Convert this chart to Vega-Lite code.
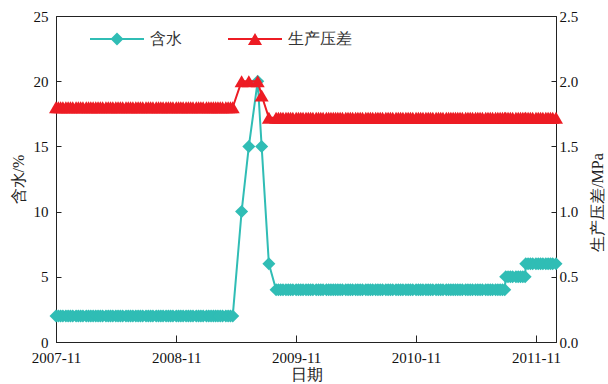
{
  "$schema": "https://vega.github.io/schema/vega-lite/v6.json",
  "width": 500,
  "height": 326,
  "autosize": {"type": "none"},
  "padding": {"left": 56, "top": 16, "right": 52, "bottom": 42},
  "background": "white",
  "config": {
    "font": "serif",
    "view": {"stroke": "#222", "strokeWidth": 1},
    "axis": {
      "grid": false,
      "domainColor": "#222",
      "tickColor": "#222",
      "labelColor": "#111",
      "titleColor": "#222",
      "labelFont": "serif",
      "labelFontSize": 15,
      "titleFont": "serif",
      "titleFontSize": 16,
      "titleFontWeight": "normal"
    }
  },
  "data": {"values": [
    {"d":"2007-11-01","w":2,"p":1.8},{"d":"2007-11-08","w":2,"p":1.8},{"d":"2007-11-15","w":2,"p":1.8},{"d":"2007-11-22","w":2,"p":1.8},
    {"d":"2007-12-01","w":2,"p":1.8},{"d":"2007-12-08","w":2,"p":1.8},{"d":"2007-12-15","w":2,"p":1.8},{"d":"2007-12-22","w":2,"p":1.8},
    {"d":"2008-01-01","w":2,"p":1.8},{"d":"2008-01-08","w":2,"p":1.8},{"d":"2008-01-15","w":2,"p":1.8},{"d":"2008-01-22","w":2,"p":1.8},
    {"d":"2008-02-01","w":2,"p":1.8},{"d":"2008-02-08","w":2,"p":1.8},{"d":"2008-02-15","w":2,"p":1.8},{"d":"2008-02-22","w":2,"p":1.8},
    {"d":"2008-03-01","w":2,"p":1.8},{"d":"2008-03-08","w":2,"p":1.8},{"d":"2008-03-15","w":2,"p":1.8},{"d":"2008-03-22","w":2,"p":1.8},
    {"d":"2008-04-01","w":2,"p":1.8},{"d":"2008-04-08","w":2,"p":1.8},{"d":"2008-04-15","w":2,"p":1.8},{"d":"2008-04-22","w":2,"p":1.8},
    {"d":"2008-05-01","w":2,"p":1.8},{"d":"2008-05-08","w":2,"p":1.8},{"d":"2008-05-15","w":2,"p":1.8},{"d":"2008-05-22","w":2,"p":1.8},
    {"d":"2008-06-01","w":2,"p":1.8},{"d":"2008-06-08","w":2,"p":1.8},{"d":"2008-06-15","w":2,"p":1.8},{"d":"2008-06-22","w":2,"p":1.8},
    {"d":"2008-07-01","w":2,"p":1.8},{"d":"2008-07-08","w":2,"p":1.8},{"d":"2008-07-15","w":2,"p":1.8},{"d":"2008-07-22","w":2,"p":1.8},
    {"d":"2008-08-01","w":2,"p":1.8},{"d":"2008-08-08","w":2,"p":1.8},{"d":"2008-08-15","w":2,"p":1.8},{"d":"2008-08-22","w":2,"p":1.8},
    {"d":"2008-09-01","w":2,"p":1.8},{"d":"2008-09-08","w":2,"p":1.8},{"d":"2008-09-15","w":2,"p":1.8},{"d":"2008-09-22","w":2,"p":1.8},
    {"d":"2008-10-01","w":2,"p":1.8},{"d":"2008-10-08","w":2,"p":1.8},{"d":"2008-10-15","w":2,"p":1.8},{"d":"2008-10-22","w":2,"p":1.8},
    {"d":"2008-11-01","w":2,"p":1.8},{"d":"2008-11-08","w":2,"p":1.8},{"d":"2008-11-15","w":2,"p":1.8},{"d":"2008-11-22","w":2,"p":1.8},
    {"d":"2008-12-01","w":2,"p":1.8},{"d":"2008-12-08","w":2,"p":1.8},{"d":"2008-12-15","w":2,"p":1.8},{"d":"2008-12-22","w":2,"p":1.8},
    {"d":"2009-01-01","w":2,"p":1.8},{"d":"2009-01-08","w":2,"p":1.8},{"d":"2009-01-15","w":2,"p":1.8},{"d":"2009-01-22","w":2,"p":1.8},
    {"d":"2009-02-01","w":2,"p":1.8},{"d":"2009-02-08","w":2,"p":1.8},{"d":"2009-02-15","w":2,"p":1.8},{"d":"2009-02-22","w":2,"p":1.8},
    {"d":"2009-03-01","w":2,"p":1.8},{"d":"2009-03-08","w":2,"p":1.8},{"d":"2009-03-15","w":2,"p":1.8},{"d":"2009-03-22","w":2,"p":1.8},
    {"d":"2009-04-01","w":2,"p":1.8},{"d":"2009-04-08","w":2,"p":1.8},{"d":"2009-04-15","w":2,"p":1.8},{"d":"2009-04-22","w":2,"p":1.8},
    {"d":"2009-05-19","w":10,"p":2.0},
    {"d":"2009-06-10","w":15,"p":2.0},
    {"d":"2009-07-07","w":20,"p":2.0},
    {"d":"2009-07-19","w":15,"p":1.89},
    {"d":"2009-08-10","w":6,"p":1.72},
    {"d":"2009-09-01","w":4,"p":1.72},{"d":"2009-09-08","w":4,"p":1.72},{"d":"2009-09-15","w":4,"p":1.72},{"d":"2009-09-22","w":4,"p":1.72},
    {"d":"2009-10-01","w":4,"p":1.72},{"d":"2009-10-08","w":4,"p":1.72},{"d":"2009-10-15","w":4,"p":1.72},{"d":"2009-10-22","w":4,"p":1.72},
    {"d":"2009-11-01","w":4,"p":1.72},{"d":"2009-11-08","w":4,"p":1.72},{"d":"2009-11-15","w":4,"p":1.72},{"d":"2009-11-22","w":4,"p":1.72},
    {"d":"2009-12-01","w":4,"p":1.72},{"d":"2009-12-08","w":4,"p":1.72},{"d":"2009-12-15","w":4,"p":1.72},{"d":"2009-12-22","w":4,"p":1.72},
    {"d":"2010-01-01","w":4,"p":1.72},{"d":"2010-01-08","w":4,"p":1.72},{"d":"2010-01-15","w":4,"p":1.72},{"d":"2010-01-22","w":4,"p":1.72},
    {"d":"2010-02-01","w":4,"p":1.72},{"d":"2010-02-08","w":4,"p":1.72},{"d":"2010-02-15","w":4,"p":1.72},{"d":"2010-02-22","w":4,"p":1.72},
    {"d":"2010-03-01","w":4,"p":1.72},{"d":"2010-03-08","w":4,"p":1.72},{"d":"2010-03-15","w":4,"p":1.72},{"d":"2010-03-22","w":4,"p":1.72},
    {"d":"2010-04-01","w":4,"p":1.72},{"d":"2010-04-08","w":4,"p":1.72},{"d":"2010-04-15","w":4,"p":1.72},{"d":"2010-04-22","w":4,"p":1.72},
    {"d":"2010-05-01","w":4,"p":1.72},{"d":"2010-05-08","w":4,"p":1.72},{"d":"2010-05-15","w":4,"p":1.72},{"d":"2010-05-22","w":4,"p":1.72},
    {"d":"2010-06-01","w":4,"p":1.72},{"d":"2010-06-08","w":4,"p":1.72},{"d":"2010-06-15","w":4,"p":1.72},{"d":"2010-06-22","w":4,"p":1.72},
    {"d":"2010-07-01","w":4,"p":1.72},{"d":"2010-07-08","w":4,"p":1.72},{"d":"2010-07-15","w":4,"p":1.72},{"d":"2010-07-22","w":4,"p":1.72},
    {"d":"2010-08-01","w":4,"p":1.72},{"d":"2010-08-08","w":4,"p":1.72},{"d":"2010-08-15","w":4,"p":1.72},{"d":"2010-08-22","w":4,"p":1.72},
    {"d":"2010-09-01","w":4,"p":1.72},{"d":"2010-09-08","w":4,"p":1.72},{"d":"2010-09-15","w":4,"p":1.72},{"d":"2010-09-22","w":4,"p":1.72},
    {"d":"2010-10-01","w":4,"p":1.72},{"d":"2010-10-08","w":4,"p":1.72},{"d":"2010-10-15","w":4,"p":1.72},{"d":"2010-10-22","w":4,"p":1.72},
    {"d":"2010-11-01","w":4,"p":1.72},{"d":"2010-11-08","w":4,"p":1.72},{"d":"2010-11-15","w":4,"p":1.72},{"d":"2010-11-22","w":4,"p":1.72},
    {"d":"2010-12-01","w":4,"p":1.72},{"d":"2010-12-08","w":4,"p":1.72},{"d":"2010-12-15","w":4,"p":1.72},{"d":"2010-12-22","w":4,"p":1.72},
    {"d":"2011-01-01","w":4,"p":1.72},{"d":"2011-01-08","w":4,"p":1.72},{"d":"2011-01-15","w":4,"p":1.72},{"d":"2011-01-22","w":4,"p":1.72},
    {"d":"2011-02-01","w":4,"p":1.72},{"d":"2011-02-08","w":4,"p":1.72},{"d":"2011-02-15","w":4,"p":1.72},{"d":"2011-02-22","w":4,"p":1.72},
    {"d":"2011-03-01","w":4,"p":1.72},{"d":"2011-03-08","w":4,"p":1.72},{"d":"2011-03-15","w":4,"p":1.72},{"d":"2011-03-22","w":4,"p":1.72},
    {"d":"2011-04-01","w":4,"p":1.72},{"d":"2011-04-08","w":4,"p":1.72},{"d":"2011-04-15","w":4,"p":1.72},{"d":"2011-04-22","w":4,"p":1.72},
    {"d":"2011-05-01","w":4,"p":1.72},{"d":"2011-05-08","w":4,"p":1.72},{"d":"2011-05-15","w":4,"p":1.72},{"d":"2011-05-22","w":4,"p":1.72},
    {"d":"2011-06-01","w":4,"p":1.72},{"d":"2011-06-08","w":4,"p":1.72},{"d":"2011-06-15","w":4,"p":1.72},{"d":"2011-06-22","w":4,"p":1.72},
    {"d":"2011-07-01","w":4,"p":1.72},{"d":"2011-07-08","w":4,"p":1.72},{"d":"2011-07-15","w":4,"p":1.72},{"d":"2011-07-22","w":4,"p":1.72},{"d":"2011-07-29","w":4,"p":1.72},
    {"d":"2011-08-01","w":5,"p":1.72},{"d":"2011-08-08","w":5,"p":1.72},{"d":"2011-08-15","w":5,"p":1.72},{"d":"2011-08-22","w":5,"p":1.72},
    {"d":"2011-09-01","w":5,"p":1.72},{"d":"2011-09-08","w":5,"p":1.72},{"d":"2011-09-15","w":5,"p":1.72},{"d":"2011-09-22","w":5,"p":1.72},{"d":"2011-09-29","w":5,"p":1.72},
    {"d":"2011-10-01","w":6,"p":1.72},{"d":"2011-10-08","w":6,"p":1.72},{"d":"2011-10-15","w":6,"p":1.72},{"d":"2011-10-22","w":6,"p":1.72},
    {"d":"2011-11-01","w":6,"p":1.72},{"d":"2011-11-08","w":6,"p":1.72},{"d":"2011-11-15","w":6,"p":1.72},{"d":"2011-11-22","w":6,"p":1.72},
    {"d":"2011-12-01","w":6,"p":1.72},{"d":"2011-12-08","w":6,"p":1.72},{"d":"2011-12-15","w":6,"p":1.72},{"d":"2011-12-22","w":6,"p":1.72},
    {"d":"2012-01-01","w":6,"p":1.72}
  ]},
  "encoding": {
    "x": {
      "field": "d",
      "type": "temporal",
      "scale": {
        "type": "utc",
        "domain": [
          {"year": 2007, "month": 11, "date": 1, "utc": true},
          {"year": 2012, "month": 1, "date": 1, "utc": true}
        ]
      },
      "axis": {
        "title": "日期",
        "values": [
          {"year": 2007, "month": 11, "date": 1, "utc": true},
          {"year": 2008, "month": 11, "date": 1, "utc": true},
          {"year": 2009, "month": 11, "date": 1, "utc": true},
          {"year": 2010, "month": 11, "date": 1, "utc": true},
          {"year": 2011, "month": 11, "date": 1, "utc": true}
        ],
        "format": "%Y-%m",
        "labelAngle": 0,
        "labelFlush": false,
        "labelOverlap": false,
        "tickSize": -7,
        "labelPadding": 15,
        "titlePadding": 1
      }
    }
  },
  "layer": [
    {
      "mark": {
        "type": "line",
        "strokeWidth": 2,
        "point": {"shape": "diamond", "size": 170, "filled": true, "opacity": 1}
      },
      "encoding": {
        "y": {
          "field": "w",
          "type": "quantitative",
          "scale": {"domain": [0, 25], "nice": false},
          "axis": {
            "title": "含水/%",
            "orient": "left",
            "values": [0, 5, 10, 15, 20, 25],
            "tickSize": -5,
            "labelPadding": 13,
            "titlePadding": 7
          }
        },
        "color": {
          "datum": "含水",
          "scale": {"domain": ["含水", "生产压差"], "range": ["#30bdb5", "#ed1c24"]},
          "legend": {
            "orient": "none",
            "legendX": 34,
            "legendY": -4,
            "direction": "horizontal",
            "title": null,
            "padding": 0,
            "offset": 0,
            "symbolSize": 2916,
            "symbolStrokeWidth": 0,
            "labelFont": "serif",
            "labelFontSize": 16,
            "labelColor": "#333",
            "labelOffset": 6,
            "columnPadding": 46,
            "encode": {
              "symbols": {
                "update": {
                  "shape": {"signal": "datum.value === '含水' ? 'M-1,-0.037L1,-0.037L1,0.037L-1,0.037Z M0,-0.24L0.24,0L0,0.24L-0.24,0Z' : 'M-1,-0.037L1,-0.037L1,0.037L-1,0.037Z M0,-0.22L0.26,0.22L-0.26,0.22Z'"},
                  "fill": {"scale": "color", "field": "value"},
                  "strokeWidth": {"value": 0},
                  "opacity": {"value": 1}
                }
              }
            }
          }
        }
      }
    },
    {
      "mark": {
        "type": "line",
        "strokeWidth": 2,
        "point": {"shape": "triangle-up", "size": 196, "filled": true, "opacity": 1}
      },
      "encoding": {
        "y": {
          "field": "p",
          "type": "quantitative",
          "scale": {"domain": [0, 2.5], "nice": false},
          "axis": {
            "title": "生产压差/MPa",
            "orient": "right",
            "values": [0, 0.5, 1, 1.5, 2, 2.5],
            "format": ".1f",
            "tickSize": -5,
            "labelPadding": 8,
            "titlePadding": 28,
            "titleAngle": -90,
            "titleY": 186
          }
        },
        "color": {
          "datum": "生产压差",
          "scale": {"domain": ["含水", "生产压差"], "range": ["#30bdb5", "#ed1c24"]}
        }
      }
    }
  ],
  "resolve": {"scale": {"y": "independent"}}
}
